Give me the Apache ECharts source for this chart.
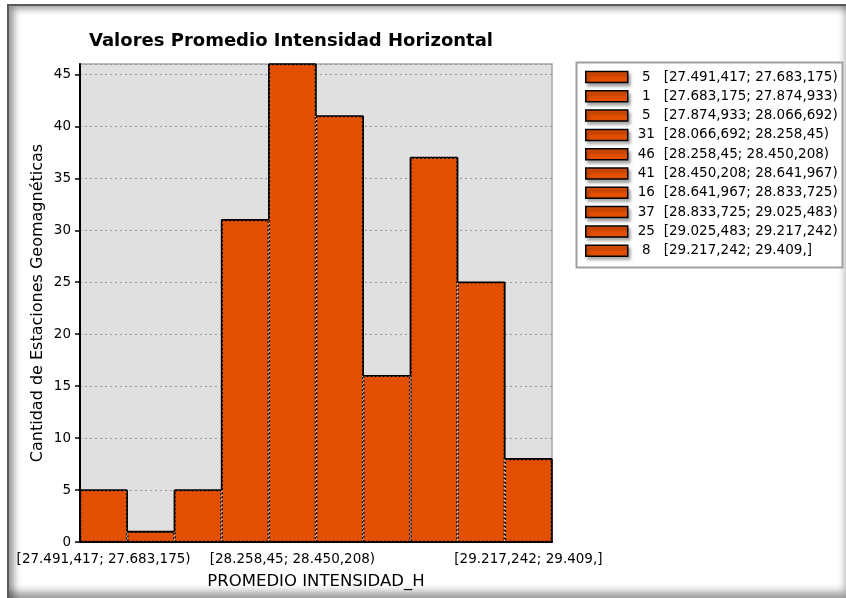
<!DOCTYPE html>
<html>
<head>
<meta charset="utf-8">
<script src="https://cdn.jsdelivr.net/npm/echarts@6/dist/echarts.min.js"></script>
<style>
  html, body { margin: 0; padding: 0; background: #fff; }
  #frame {
    position: absolute; left: 7px; top: 4px; width: 839px; height: 594px;
    box-sizing: border-box;
    border-top: 2px solid #5a5a5a; border-left: 2px solid #5a5a5a;
    box-shadow: inset 8px 6px 7px -3px rgba(0,0,0,0.4), inset -3px -9px 8px -3px rgba(0,0,0,0.4);
  }
  #chart { position: absolute; left: 0; top: 0; width: 846px; height: 598px; }
</style>
</head>
<body>
<div id="frame"></div>
<div id="chart"></div>
<script>
const titleText = 'Valores Promedio Intensidad Horizontal';
const xAxisName = 'PROMEDIO INTENSIDAD_H';
const yAxisName = 'Cantidad de Estaciones Geomagnéticas';
const categories = [
  '[27.491,417; 27.683,175)',
  '[27.683,175; 27.874,933)',
  '[27.874,933; 28.066,692)',
  '[28.066,692; 28.258,45)',
  '[28.258,45; 28.450,208)',
  '[28.450,208; 28.641,967)',
  '[28.641,967; 28.833,725)',
  '[28.833,725; 29.025,483)',
  '[29.025,483; 29.217,242)',
  '[29.217,242; 29.409,]'
];
const counts = [5, 1, 5, 31, 46, 41, 16, 37, 25, 8];
const shownXLabels = [0, 4, 9];
const yMin = 0, yMax = 46, yStep = 5;

const barColor = '#e34f00';
const FONT = 'DejaVu Sans';

const series = categories.map((c, i) => ({
  name: counts[i] + ' ' + c,
  type: 'bar',
  stack: 'hist',
  barWidth: '100%',
  barCategoryGap: '0%',
  data: categories.map((_, j) => (j === i ? counts[i] : '-')),
  itemStyle: { color: barColor, borderColor: '#000', borderWidth: 1.3, borderType: [2, 2] },
  emphasis: { disabled: true }
}));

// solid outline of the histogram (outer edges), drawn through the axes
series.push({
  name: '__outline',
  type: 'custom',
  z: 5,
  silent: true,
  data: counts.map((v, i) => [i, v]),
  renderItem: function (params, api) {
    const i = api.value(0);
    const v = api.value(1);
    const prev = i > 0 ? counts[i - 1] : 0;
    const next = i < counts.length - 1 ? counts[i + 1] : 0;
    const c = api.coord([i, v]);
    const w = api.size([1, 0])[0];
    const xl = c[0] - w / 2, xr = c[0] + w / 2, yt = c[1];
    const style = { stroke: '#000', lineWidth: 1.6, fill: null };
    const children = [{ type: 'line', shape: { x1: xl, y1: yt, x2: xr, y2: yt }, style: style }];
    if (prev < v) {
      const yp = api.coord([i, prev])[1];
      children.push({ type: 'line', shape: { x1: xl, y1: yt, x2: xl, y2: yp }, style: style });
    }
    if (next < v) {
      const yn = api.coord([i, next])[1];
      children.push({ type: 'line', shape: { x1: xr, y1: yt, x2: xr, y2: yn }, style: style });
    }
    return { type: 'group', children: children };
  }
});

const chart = echarts.init(document.getElementById('chart'), null, { renderer: 'canvas' });
chart.setOption({
  animation: false,
  backgroundColor: 'transparent',
  title: {
    text: titleText,
    left: 84, top: 27,
    textStyle: { fontFamily: FONT, fontWeight: 'bold', fontSize: 18, color: '#000' }
  },
  grid: {
    left: 80, right: 294, top: 64, bottom: 56,
    show: true, backgroundColor: '#e0e0e0', borderColor: '#a8a8a8', borderWidth: 1.5
  },
  graphic: [{
    type: 'rect', z: -1,
    shape: { x: 576.5, y: 62.5, width: 266, height: 205 },
    style: { fill: '#fff', stroke: '#a0a0a0', lineWidth: 2 }
  }],
  legend: {
    orient: 'vertical',
    left: 585, top: 70,
    padding: 0,
    data: series.filter(s => s.type === 'bar').map(s => s.name),
    itemWidth: 42, itemHeight: 11, itemGap: 5.3,
    icon: 'rect',
    itemStyle: {
      borderColor: '#000', borderWidth: 1.5, borderType: 'solid',
      shadowColor: 'rgba(0,0,0,0.35)', shadowBlur: 3, shadowOffsetX: 2, shadowOffsetY: 3
    },
    selectedMode: false,
    textStyle: {
      fontFamily: FONT, fontSize: 13.5, color: '#000', lineHeight: 14,
      rich: {
        n: { fontFamily: FONT, fontSize: 13.5, width: 27, align: 'right', lineHeight: 14 },
        r: { fontFamily: FONT, fontSize: 13.5, lineHeight: 14, padding: [0, 0, 0, 4] }
      }
    },
    formatter: function (name) {
      const k = name.indexOf(' ');
      return '{n|' + name.slice(0, k) + '}{r|' + name.slice(k + 1) + '}';
    }
  },
  xAxis: {
    type: 'category',
    data: categories,
    name: xAxisName,
    nameLocation: 'middle',
    nameGap: 31,
    nameTextStyle: { fontFamily: FONT, fontSize: 16.5, color: '#000' },
    axisLine: { lineStyle: { color: '#000', width: 2 } },
    axisTick: {
      alignWithLabel: true, length: 6,
      interval: (i) => shownXLabels.includes(i),
      lineStyle: { color: '#000', width: 1.5 }
    },
    axisLabel: {
      interval: (i) => shownXLabels.includes(i),
      fontFamily: FONT, fontSize: 13.5, color: '#000', margin: 10
    },
    splitLine: { show: false }
  },
  yAxis: {
    type: 'value',
    min: yMin, max: yMax, interval: yStep,
    name: yAxisName,
    nameLocation: 'middle',
    nameGap: 34,
    nameMoveOverlap: false,
    nameTextStyle: { fontFamily: FONT, fontSize: 16, color: '#000' },
    axisLine: { show: true, lineStyle: { color: '#000', width: 2 } },
    axisTick: { show: true, length: 5, lineStyle: { color: '#000', width: 1.5 } },
    axisLabel: {
      fontFamily: FONT, fontSize: 13.5, color: '#000', margin: 9,
      showMaxLabel: false
    },
    splitLine: { show: true, lineStyle: { color: '#999', type: [2, 3], width: 1 } }
  },
  series: series
});
</script>
</body>
</html>
